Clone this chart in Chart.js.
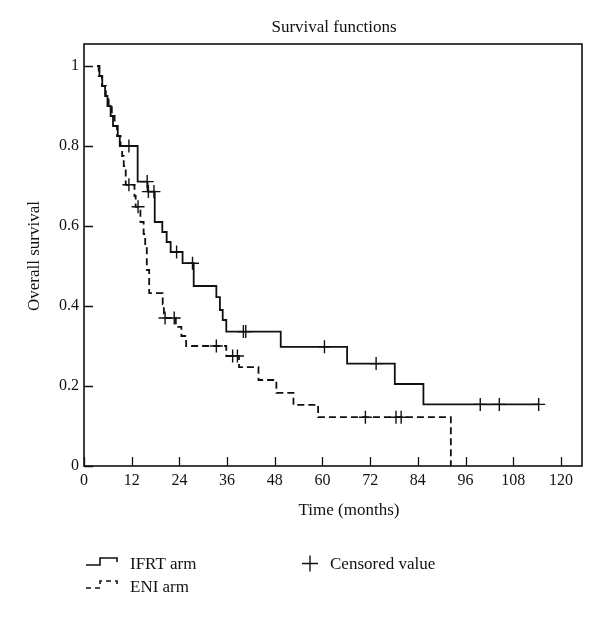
<!DOCTYPE html>
<html>
<head>
<meta charset="utf-8">
<script src="https://cdn.jsdelivr.net/npm/chart.js@4"></script>
<style>
  html, body { margin: 0; padding: 0; background: #fff; }
  canvas { display: block; }
</style>
</head>
<body>
<canvas id="myChart" width="600" height="618"></canvas>
<script>
// Kaplan-Meier steps (months, survival after the step)
const ifrtTime = [3.3, 3.9, 4.6, 5.3, 5.9, 6.7, 7.3, 8.5, 9.0, 13.5, 16.0, 17.8, 19.7, 20.8, 21.8, 24.8, 27.6, 33.3, 34.2, 34.9, 35.8, 49.5, 66.2, 78.2, 85.4, 114.4];
const ifrtSurv = [1.0, 0.975, 0.95, 0.925, 0.9, 0.875, 0.85, 0.825, 0.80, 0.711, 0.686, 0.61, 0.585, 0.56, 0.535, 0.507, 0.45, 0.422, 0.39, 0.365, 0.336, 0.298, 0.256, 0.205, 0.154, 0.154];
const ifrtCensTime = [11.3, 15.9, 16.2, 17.6, 23.3, 27.3, 40.1, 40.7, 60.5, 73.5, 99.7, 104.5, 114.4];
const ifrtCensSurv = [0.80, 0.711, 0.686, 0.686, 0.535, 0.507, 0.336, 0.336, 0.298, 0.256, 0.154, 0.154, 0.154];

const eniTime = [3.3, 3.7, 4.5, 5.5, 6.2, 7.0, 7.7, 8.3, 9.2, 9.6, 10.0, 10.5, 12.7, 13.0, 14.2, 15.0, 15.4, 15.8, 16.4, 19.8, 20.1, 23.1, 24.5, 25.7, 35.8, 39.0, 43.9, 48.4, 52.7, 58.9, 92.3];
const eniSurv = [1.0, 0.975, 0.95, 0.925, 0.9, 0.875, 0.85, 0.825, 0.80, 0.775, 0.75, 0.703, 0.675, 0.648, 0.61, 0.58, 0.55, 0.49, 0.432, 0.405, 0.37, 0.348, 0.325, 0.30, 0.275, 0.247, 0.215, 0.183, 0.153, 0.122, 0];
const eniCensTime = [11.3, 13.6, 20.4, 22.7, 33.3, 37.4, 38.6, 70.8, 78.5, 79.8];
const eniCensSurv = [0.703, 0.648, 0.37, 0.37, 0.30, 0.275, 0.275, 0.122, 0.122, 0.122];

const xTicks = [0, 12, 24, 36, 48, 60, 72, 84, 96, 108, 120];
const yTicks = [0, 0.2, 0.4, 0.6, 0.8, 1];

const SERIF = '"Liberation Serif", "DejaVu Serif", serif';
const INK = '#111';

function pts(xs, ys) {
    return xs.map((t, i) => ({x: t, y: ys[i]}));
}

const frame = {
    id: 'frame',
    afterDraw(chart) {
        const ctx = chart.ctx;
        const a = chart.chartArea;
        const xs = chart.scales.x;
        const ys = chart.scales.y;
        ctx.save();
        ctx.strokeStyle = INK;
        ctx.lineWidth = 1.6;
        ctx.strokeRect(a.left, a.top, a.right - a.left, a.bottom - a.top);

        // inward ticks
        ctx.lineWidth = 1.3;
        ctx.beginPath();
        xTicks.forEach(v => {
            const px = Math.round(xs.getPixelForValue(v)) + 0.5;
            ctx.moveTo(px, a.bottom);
            ctx.lineTo(px, a.bottom - 9);
        });
        yTicks.forEach(v => {
            const py = Math.round(ys.getPixelForValue(v)) + 0.5;
            ctx.moveTo(a.left, py);
            ctx.lineTo(a.left + 9, py);
        });
        ctx.stroke();

        ctx.fillStyle = INK;
        ctx.textBaseline = 'alphabetic';
        // title
        ctx.font = '17px ' + SERIF;
        ctx.textAlign = 'center';
        ctx.fillText('Survival functions', 334, 32);
        // axis titles
        ctx.fillText('Time (months)', 349, 515);
        ctx.save();
        ctx.translate(39, 256);
        ctx.rotate(-Math.PI / 2);
        ctx.fillText('Overall survival', 0, 0);
        ctx.restore();

        // legend
        ctx.textAlign = 'left';
        ctx.fillText('IFRT arm', 130, 569);
        ctx.fillText('ENI arm', 130, 592);
        ctx.fillText('Censored value', 330, 569);

        ctx.lineWidth = 1.6;
        ctx.beginPath();
        ctx.moveTo(86, 565); ctx.lineTo(100, 565); ctx.lineTo(100, 558);
        ctx.lineTo(117, 558); ctx.lineTo(117, 562);
        ctx.stroke();
        ctx.setLineDash([5, 4]);
        ctx.beginPath();
        ctx.moveTo(86, 588); ctx.lineTo(100, 588); ctx.lineTo(100, 581);
        ctx.lineTo(117, 581); ctx.lineTo(117, 585);
        ctx.stroke();
        ctx.setLineDash([]);
        ctx.lineWidth = 1.4;
        ctx.beginPath();
        ctx.moveTo(302, 563.5); ctx.lineTo(318, 563.5);
        ctx.moveTo(310, 555.5); ctx.lineTo(310, 571.5);
        ctx.stroke();
        ctx.restore();
    }
};

const ctx = document.getElementById('myChart');
const myChart = new Chart(ctx, {
    type: 'line',
    data: {
        datasets: [{
            label: 'IFRT arm',
            data: pts(ifrtTime, ifrtSurv),
            stepped: 'before',
            borderColor: INK,
            borderWidth: 1.8,
            pointRadius: 0,
            fill: false,
        },
        {
            label: 'ENI arm',
            data: pts(eniTime, eniSurv),
            stepped: 'before',
            borderColor: INK,
            borderWidth: 1.8,
            borderDash: [7, 4],
            pointRadius: 0,
            fill: false,
        },
        {
            label: 'Censored IFRT',
            data: pts(ifrtCensTime, ifrtCensSurv),
            showLine: false,
            pointStyle: 'cross',
            pointRadius: 6.5,
            pointBorderWidth: 1.4,
            borderColor: INK,
        },
        {
            label: 'Censored ENI',
            data: pts(eniCensTime, eniCensSurv),
            showLine: false,
            pointStyle: 'cross',
            pointRadius: 6.5,
            pointBorderWidth: 1.4,
            borderColor: INK,
        }]
    },
    options: {
        responsive: false,
        animation: false,
        layout: {
            padding: {left: 0, right: 18, top: 44, bottom: 0},
        },
        plugins: {
            legend: {display: false},
            tooltip: {enabled: false},
        },
        scales: {
            x: {
                type: 'linear',
                min: 0,
                max: 125.3,
                grid: {display: false, drawTicks: false},
                border: {display: false},
                afterBuildTicks: (scale) => { scale.ticks = xTicks.map(v => ({value: v})); },
                afterFit: (scale) => { scale.height = 152; },
                ticks: {
                    color: INK,
                    padding: 5,
                    maxRotation: 0,
                    font: {family: SERIF, size: 16},
                },
            },
            y: {
                min: 0,
                max: 1.055,
                grid: {display: false, drawTicks: false},
                border: {display: false},
                afterBuildTicks: (scale) => { scale.ticks = yTicks.map(v => ({value: v})); },
                afterFit: (scale) => { scale.width = 84; },
                ticks: {
                    color: INK,
                    padding: 5,
                    font: {family: SERIF, size: 16},
                    callback: (v) => String(v),
                },
            }
        }
    },
    plugins: [frame],
});
</script>
</body>
</html>
